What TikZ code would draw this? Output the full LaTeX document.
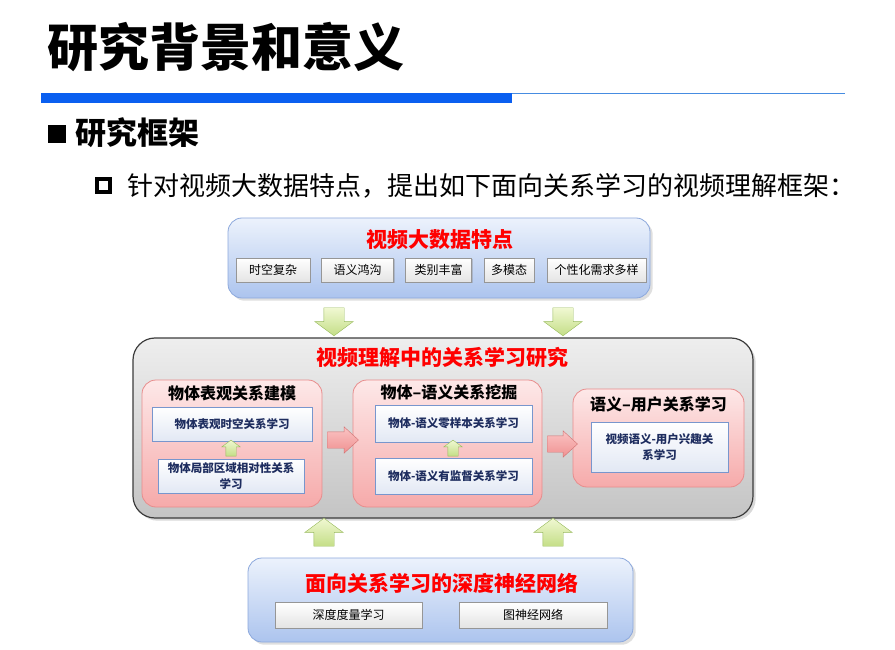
\documentclass[tikz,border=0pt]{standalone}
\usepackage{fontspec}
\setmainfont{Noto Sans CJK SC}
\usetikzlibrary{shapes.arrows,shadows,positioning}
\definecolor{barblue}{RGB}{10,95,240}
\definecolor{lineblue}{RGB}{70,140,225}
\definecolor{blueline}{RGB}{140,168,220}
\definecolor{bluetop}{RGB}{236,242,252}
\definecolor{bluebot}{RGB}{172,196,238}
\definecolor{grayline}{RGB}{60,60,60}
\definecolor{graytop}{RGB}{238,238,238}
\definecolor{graybot}{RGB}{196,196,196}
\definecolor{pinkline}{RGB}{232,140,140}
\definecolor{pinktop}{RGB}{253,232,232}
\definecolor{pinkbot}{RGB}{246,170,170}
\definecolor{tagline}{RGB}{150,150,150}
\definecolor{tagbot}{RGB}{228,228,228}
\definecolor{subline}{RGB}{120,150,205}
\definecolor{subbot}{RGB}{226,232,244}
\definecolor{navy}{RGB}{30,45,95}
\definecolor{greenline}{RGB}{150,185,90}
\definecolor{greentop}{RGB}{240,248,210}
\definecolor{greenbot}{RGB}{196,222,135}
\definecolor{arrowline}{RGB}{210,115,115}
\definecolor{arrowtop}{RGB}{250,196,196}
\definecolor{arrowbot}{RGB}{240,145,145}
\begin{document}
\begin{tikzpicture}%
  [x=1pt,y=-1pt,inner sep=0pt,
   font=\fontsize{12}{14}\selectfont]
  \tikzstyle{blue box}=[rectangle,rounded corners=14pt,draw=blueline,line width=0.8pt,top color=bluetop,bottom color=bluebot,drop shadow={opacity=0.25}]
  \tikzstyle{gray box}=[rectangle,rounded corners=22pt,draw=grayline,line width=1.2pt,top color=graytop,bottom color=graybot,drop shadow={opacity=0.3}]
  \tikzstyle{pink box}=[rectangle,rounded corners=14pt,draw=pinkline,line width=0.8pt,top color=pinktop,bottom color=pinkbot]
  \tikzstyle{tag node}=[rectangle,draw=tagline,top color=white,bottom color=tagbot,minimum height=24pt,drop shadow={opacity=0.35,shadow xshift=1.2pt,shadow yshift=-1.2pt}]
  \tikzstyle{sub node}=[rectangle,draw=subline,line width=0.8pt,top color=white,bottom color=subbot,text=navy,align=center,font=\bfseries\fontsize{11.5}{16}\selectfont,drop shadow={opacity=0.35,shadow xshift=1.2pt,shadow yshift=-1.2pt}]
  \tikzstyle{red title}=[text=red,font=\bfseries\fontsize{21}{24}\selectfont]
  \tikzstyle{pink title}=[font=\bfseries\fontsize{16}{18}\selectfont]
  \tikzstyle{green arrow}=[single arrow,draw=greenline,top color=greentop,bottom color=greenbot,inner sep=10pt,single arrow head extend=9pt,single arrow tip angle=107,single arrow head indent=0pt,minimum height=28pt]
  \tikzstyle{small arrow}=[green arrow,inner sep=5pt,single arrow head extend=4pt,minimum height=16pt,shape border rotate=90]
  \tikzstyle{pink arrow}=[single arrow,draw=arrowline,top color=arrowtop,bottom color=arrowbot,inner xsep=0pt,inner ysep=8pt,single arrow head extend=5pt,single arrow tip angle=85,single arrow head indent=0pt,minimum height=31pt]
  \useasboundingbox (0,0) rectangle (895,650);
  % heading
  \node(heading) at (47,47)[anchor=west,font=\bfseries\fontsize{51}{56}\selectfont]{研究背景和意义};
  \fill[barblue] (41,93) rectangle (512,103);
  \draw[lineblue,line width=1.5pt] (512,93.75) -- (845,93.75);
  \fill (48,125) rectangle (66,143);
  \node(frame) at (75,133)[anchor=west,font=\bfseries\fontsize{31}{34}\selectfont]{研究框架};
  \draw[line width=3.5pt] (97,179) rectangle (110,192);
  \node(intro) at (127,186)[anchor=west,font=\fontsize{26}{30}\selectfont]{针对视频大数据特点，提出如下面向关系学习的视频理解框架：};
  % top
  \node(top)[blue box,minimum width=422pt,minimum height=80pt] at (439,258){};
  \node(top title)[red title] at (440,240){视频大数据特点};
  \node(t1)[tag node,minimum width=74pt] at (273,270){时空复杂};
  \node(t2)[tag node,minimum width=72pt] at (357.5,270){语义鸿沟};
  \node(t3)[tag node,minimum width=66pt] at (438.5,270){类别丰富};
  \node(t4)[tag node,minimum width=50pt] at (509,270){多模态};
  \node(t5)[tag node,minimum width=99pt] at (596.5,270){个性化需求多样};
  \node(down1)[green arrow,shape border rotate=270] at (334,318){};
  \node(down2)[green arrow,shape border rotate=270] at (563,318){};
  % middle
  \node(mid)[gray box,minimum width=620pt,minimum height=180pt] at (443,428){};
  \node(mid title)[red title] at (442,357){视频理解中的关系学习研究};
  \node(p1)[pink box,minimum width=180pt,minimum height=127pt] at (232,443.5){};
  \node(p1 title)[pink title] at (232,393){物体表观关系建模};
  \node(a)[sub node,minimum width=160pt,minimum height=34pt] at (232,424){物体表观时空关系学习};
  \node(b)[sub node,minimum width=146pt,minimum height=34pt,text width=140pt] at (231,476){物体局部区域相对性关系\\学习};
  \node(up a)[small arrow] at (231,450){};
  \node(p2)[pink box,minimum width=189pt,minimum height=127pt] at (447.5,443.5){};
  \node(p2 title)[pink title] at (449,392){物体–语义关系挖掘};
  \node(c)[sub node,minimum width=157pt,minimum height=37pt] at (453.5,423.5){物体-语义零样本关系学习};
  \node(d)[sub node,minimum width=157pt,minimum height=36pt] at (453.5,476){物体-语义有监督关系学习};
  \node(up c)[small arrow] at (453,450){};
  \node(p3)[pink box,minimum width=171pt,minimum height=98pt] at (658.5,438){};
  \node(p3 title)[pink title] at (658.5,404){语义–用户关系学习};
  \node(e)[sub node,minimum width=137pt,minimum height=50pt,text width=118pt] at (659.5,447){视频语义-用户兴趣关\\系学习};
  \node(right1)[pink arrow] at (338.5,440){};
  \node(right2)[pink arrow,minimum height=30pt] at (558,444){};
  % bottom
  \node(up1)[green arrow,shape border rotate=90] at (324,536){};
  \node(up2)[green arrow,shape border rotate=90] at (553,536){};
  \node(bottom)[blue box,minimum width=385pt,minimum height=84pt] at (440.5,600){};
  \node(bottom title)[red title] at (442,583){面向关系学习的深度神经网络};
  \node(f)[tag node,minimum width=147pt,minimum height=26pt] at (348.5,615){深度度量学习};
  \node(g)[tag node,minimum width=148pt,minimum height=26pt] at (533,615){图神经网络};
\end{tikzpicture}
\end{document}
